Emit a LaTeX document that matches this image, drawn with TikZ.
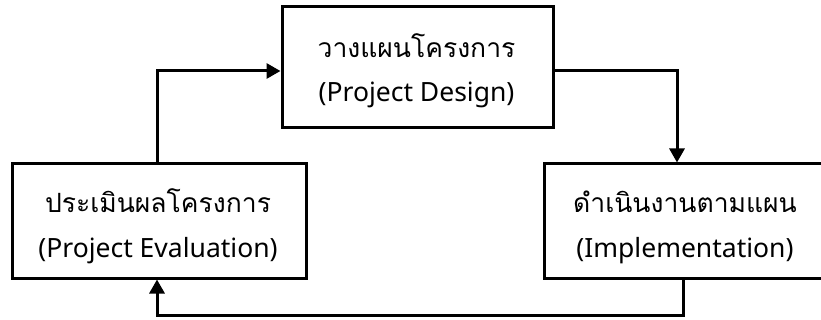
\documentclass[tikz,border=0pt]{standalone}
\usepackage{fontspec}
\setmainfont{Noto Sans}
\newfontfamily\thaifont[Script=Thai]{Loma}
\usetikzlibrary{arrows.meta}
\begin{document}
\begin{tikzpicture}[x=1pt,y=-1pt,
  stage/.style={draw,line width=3pt,inner sep=0pt},
  th/.style={anchor=base,inner sep=0pt,font=\thaifont\fontsize{26.5}{30}\selectfont},
  en/.style={anchor=base,inner sep=0pt,font=\fontsize{26.5}{30}\selectfont},
  arr/.style={line width=3pt,-{Triangle[length=14pt,width=15pt]}}]
\useasboundingbox (0,0) rectangle (821,320);
\begin{scope}
\clip (0,0) rectangle (821,320);
% the three stages of the project cycle
\node[stage,minimum width=271pt,minimum height=121pt] (design) at (417.5,67.5) {};
\node[stage,minimum width=294pt,minimum height=114pt] (eval) at (159,221) {};
\node[stage,minimum width=282pt,minimum height=114pt] (impl) at (685,221) {};
\end{scope}
% stage titles, Thai above English
\node[th] (design-th) at (416.5,58) {วางแผนโครงการ};
\node[en] (design-en) at (416.5,102) {(Project Design)};
\node[th] (eval-th) at (158,213) {ประเมินผลโครงการ};
\node[en] (eval-en) at (158,258) {(Project Evaluation)};
\node[th] (impl-th) at (685,213) {ดำเนินงานตามแผน};
\node[en] (impl-en) at (685,258) {(Implementation)};
% connectors
\coordinate (c1) at (677,71);
\coordinate (c2) at (683,315);
\coordinate (c3) at (157,315);
\coordinate (c4) at (157,71);
\draw[arr] (design.east |- c1) -- (c1) -- (c1 |- impl.north);
\draw[arr] (c2 |- impl.south) -- (c2) -- (c3) -- (c3 |- eval.south);
\draw[arr] (c4 |- eval.north) -- (c4) -- (c4 -| design.west);
\end{tikzpicture}
\end{document}
